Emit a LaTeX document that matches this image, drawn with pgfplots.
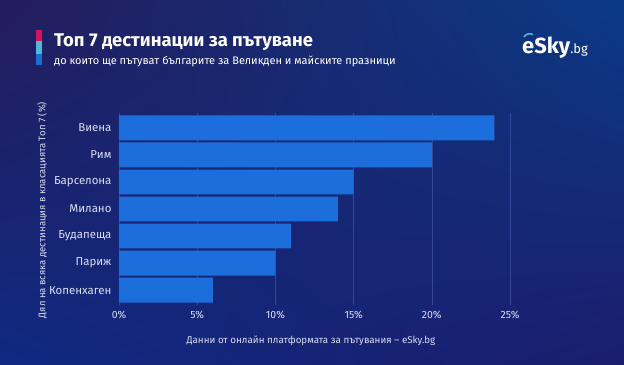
\documentclass[border=0pt]{standalone}
\usepackage{pgfplots}
\pgfplotsset{compat=1.18}
\usetikzlibrary{shadings}
\usepackage{fontspec}
\setmainfont{Fira Sans}
\definecolor{bgUL}{HTML}{241C5C}
\definecolor{bgUR}{HTML}{0B3A86}
\definecolor{bgLL}{HTML}{0F2A82}
\definecolor{bgLR}{HTML}{1B1D6C}
\definecolor{barblue}{HTML}{1B6EDB}
\definecolor{txt}{HTML}{DADDF2}
\definecolor{gridc}{HTML}{34479A}
\definecolor{pinkc}{HTML}{D0145E}
\definecolor{cyanc}{HTML}{4FB8D8}
\definecolor{blc}{HTML}{1E6BD6}
\begin{document}
\begin{tikzpicture}[x=1bp,y=1bp]
\shade[upper left=bgUL, upper right=bgUR, lower left=bgLL, lower right=bgLR] (0,0) rectangle (624,364);
% colored marker
\fill[pinkc] (36,323) rectangle (42,334);
\fill[cyanc] (36,310) rectangle (42,323);
\fill[blc] (36,299) rectangle (42,310);
\node[anchor=base west, inner sep=0pt, text=white, font=\fontsize{18.5}{20}\selectfont\bfseries] at (54,318) {Топ 7 дестинации за пътуване};
\node[anchor=base west, inner sep=0pt, text=white, font=\fontsize{11}{13}\selectfont] at (54,300) {до които ще пътуват българите за Великден и майските празници};
% logo
\node[anchor=base west, inner sep=0pt, text=white, font=\fontsize{22}{24}\selectfont\bfseries] at (522,311) {eSky\fontsize{13}{14}\selectfont\mdseries.bg};
\draw[cyanc, line width=1.6pt] (524,327) arc (150:60:6.5);
\begin{axis}[
  at={(119bp,59bp)}, anchor=south west,
  scale only axis, width=391bp, height=192bp,
  xmin=0, xmax=25, ymin=-0.55, ymax=6.55, y dir=reverse,
  xtick={0,5,10,15,20,25},
  xticklabels={0\%,5\%,10\%,15\%,20\%,25\%},
  ytick={0,...,6},
  yticklabels={Виена,Рим,Барселона,Милано,Будапеща,Париж,Копенхаген},
  xmajorgrids, major grid style={gridc, line width=0.5pt},
  axis line style={draw=none}, major tick length=0pt,
  tick label style={text=txt},
  xticklabel style={yshift=-3bp, font=\fontsize{10.5}{12}\selectfont},
  yticklabel style={xshift=-4bp, font=\fontsize{11.5}{13}\selectfont},
]
\addplot[xbar, bar width=0.92, fill=barblue, draw=none] coordinates {(24,0) (20,1) (15,2) (14,3) (11,4) (10,5) (6,6)};
\end{axis}
\node[rotate=90, inner sep=0pt, text=txt, font=\fontsize{9.6}{11}\selectfont] at (42,154) {Дял на всяка дестинация в класацията Топ 7 (\%)};
\node[anchor=base, inner sep=0pt, text=txt, font=\fontsize{9.8}{12}\selectfont] at (311,21) {Данни от онлайн платформата за пътувания – eSky.bg};
\end{tikzpicture}
\end{document}
